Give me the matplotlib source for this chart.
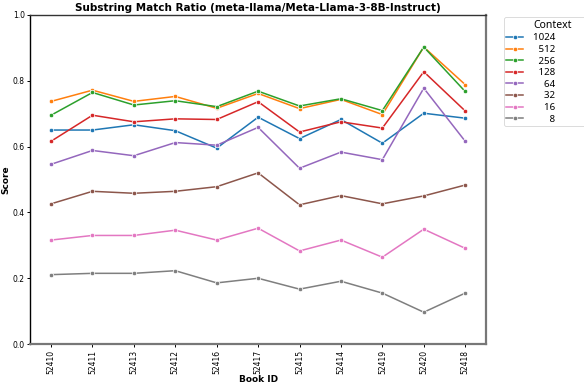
import matplotlib
matplotlib.use("Agg")
import matplotlib.pyplot as plt
import seaborn as sns
import pandas as pd

book_ids = ["52410", "52411", "52413", "52412", "52416", "52417",
            "52415", "52414", "52419", "52420", "52418"]
contexts = [1024, 512, 256, 128, 64, 32, 16, 8]

score_1024 = [0.650, 0.650, 0.666, 0.648, 0.595, 0.689, 0.624, 0.682, 0.610, 0.701, 0.686]
score_512 = [0.737, 0.771, 0.737, 0.752, 0.716, 0.761, 0.715, 0.743, 0.697, 0.902, 0.788]
score_256 = [0.695, 0.764, 0.726, 0.739, 0.721, 0.768, 0.723, 0.745, 0.709, 0.902, 0.767]
score_128 = [0.616, 0.695, 0.675, 0.684, 0.682, 0.736, 0.644, 0.675, 0.656, 0.827, 0.708]
score_64 = [0.546, 0.588, 0.572, 0.612, 0.604, 0.658, 0.534, 0.583, 0.560, 0.777, 0.616]
score_32 = [0.426, 0.464, 0.458, 0.464, 0.478, 0.520, 0.423, 0.451, 0.426, 0.450, 0.483]
score_16 = [0.316, 0.330, 0.330, 0.346, 0.316, 0.352, 0.283, 0.316, 0.264, 0.349, 0.291]
score_8 = [0.211, 0.215, 0.215, 0.223, 0.186, 0.200, 0.167, 0.191, 0.155, 0.097, 0.155]

series = {1024: score_1024, 512: score_512, 256: score_256, 128: score_128,
          64: score_64, 32: score_32, 16: score_16, 8: score_8}

rows = []
for ctx in contexts:
    for bid, val in zip(book_ids, series[ctx]):
        rows.append({"Book ID": bid, "Score": val, "Context": ctx})
df = pd.DataFrame(rows)

palette = sns.color_palette("tab10", len(contexts))

fig, ax = plt.subplots(figsize=(5.84, 3.88), dpi=100)
fig.subplots_adjust(left=0.052, right=0.832, top=0.962, bottom=0.113)

FIG_SPACE = "\u2007"  # digit-wide space, keeps the context sizes right-aligned
for i, ctx in enumerate(contexts):
    sub = df[df["Context"] == ctx]
    label = str(ctx).rjust(4, FIG_SPACE) + FIG_SPACE * 8
    ax.plot(sub["Book ID"], sub["Score"], color=palette[i], lw=1.1,
            marker="o", markersize=3.2, markeredgecolor="white",
            markeredgewidth=0.5, label=label)

ax.set_ylim(0.0, 1.0)
ax.set_yticks([0.0, 0.2, 0.4, 0.6, 0.8, 1.0])
ax.tick_params(axis="y", labelsize=5.5, length=2.5, width=0.7, pad=1.5)
ax.tick_params(axis="x", labelsize=5.5, length=2.5, width=0.7, pad=1.5,
               labelrotation=90)

ax.set_title("Substring Match Ratio (meta-llama/Meta-Llama-3-8B-Instruct)",
             fontsize=7.5, fontweight="bold", pad=3)
ax.set_xlabel("Book ID", fontsize=6.5, fontweight="bold", labelpad=1)
ax.set_ylabel("Score", fontsize=6.5, fontweight="bold", labelpad=2)

ax.spines["left"].set_color("black")
ax.spines["left"].set_linewidth(1.0)
ax.spines["top"].set_color("#333333")
ax.spines["top"].set_linewidth(1.0)
ax.spines["right"].set_color("#777777")
ax.spines["right"].set_linewidth(1.6)
ax.spines["bottom"].set_color("#777777")
ax.spines["bottom"].set_linewidth(1.6)

leg = ax.legend(title="Context", loc="upper left",
                bbox_to_anchor=(1.029, 1.007),
                prop={"family": ["Noto Sans", "DejaVu Sans"], "size": 7},
                title_fontproperties={"family": "Noto Sans", "size": 7.5},
                handlelength=1.7, borderpad=0.25, labelspacing=0.27,
                handletextpad=1.0, frameon=True)
leg.get_frame().set_linewidth(0.6)

fig.savefig("out.png", dpi=100)
